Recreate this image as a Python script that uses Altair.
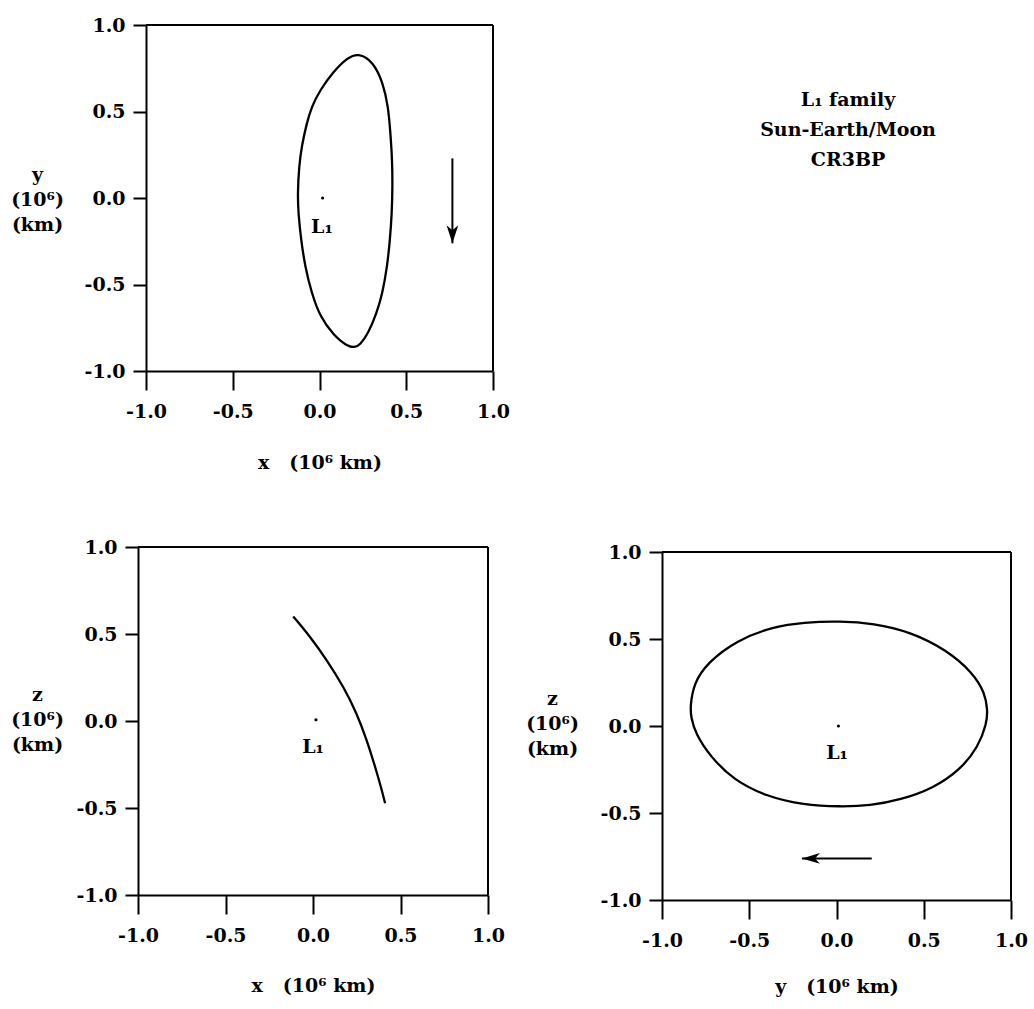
import altair as alt
import pandas as pd

# ---------------- data (10^6 km) ----------------
ticks = [-1.0, -0.5, 0.0, 0.5, 1.0]

# x-y projection (closed orbit)
xy_x = [0.223, 0.310, 0.367, 0.396, 0.409, 0.419, 0.421, 0.417, 0.406, 0.390,
        0.363, 0.329, 0.281, 0.233, 0.204, 0.156, 0.080, 0.003, -0.045, -0.083,
        -0.106, -0.122, -0.126, -0.118, -0.103, -0.074, -0.045, 0.003, 0.080, 0.156]
xy_y = [0.840, 0.788, 0.663, 0.528, 0.374, 0.220, 0.066, -0.089, -0.243, -0.397,
        -0.551, -0.667, -0.782, -0.850, -0.865, -0.855, -0.792, -0.686, -0.551, -0.397,
        -0.243, -0.089, 0.027, 0.181, 0.297, 0.432, 0.528, 0.624, 0.730, 0.807]

# x-z projection (arc)
xz_x = [-0.113, -0.017, 0.078, 0.174, 0.250, 0.307, 0.355, 0.393, 0.412]
xz_z = [0.601, 0.486, 0.352, 0.198, 0.045, -0.108, -0.262, -0.396, -0.473]

# y-z projection (closed orbit)
yz_y = [-0.838, -0.819, -0.742, -0.571, -0.361, -0.189, 0.021, 0.212, 0.422, 0.632,
        0.784, 0.851, 0.866, 0.861, 0.813, 0.708, 0.555, 0.365, 0.193, 0.021,
        -0.189, -0.399, -0.590, -0.723, -0.809, -0.834]
yz_z = [0.111, 0.243, 0.362, 0.494, 0.571, 0.596, 0.603, 0.590, 0.542, 0.437,
        0.303, 0.188, 0.092, 0.015, -0.119, -0.253, -0.358, -0.425, -0.458, -0.464,
        -0.454, -0.406, -0.310, -0.176, -0.042, 0.052]

# L1 point and label anchor per panel
l1_xy = (0.018, 0.0)
l1_xz = (0.017, 0.007)
l1_yz = (0.011, 0.0)
lab_xy = (0.014, -0.168)
lab_xz = (0.0, -0.149)
lab_yz = (0.003, -0.155)

# motion arrows (start -> tip)
arrow_xy = {"x": [0.766, 0.766], "y": [0.229, -0.262]}
arrow_yz = {"x": [0.202, -0.198], "y": [-0.761, -0.761]}

info_lines = ["L\u2081 family", "Sun-Earth/Moon", "CR3BP"]

# ---------------- styling ----------------
FONT = "DejaVu Serif"
FS = 19
FW = "bold"
W, H = 1034, 1009
NB = "\u00a0"
LABEL_EXPR = "datum.value < 0 ? '-' + format(-datum.value, '.1f') : format(datum.value, '.1f')"
DOWN = "M0,0L-0.65,-2L0,-1.45L0.65,-2Z"
LEFT = "M0,0L2,-0.6L1.45,0L2,0.6Z"


def panel(cx, cy, dot, lab, xr, yr, xtitle, ytitle, ytitle_x, ytitle_y, tpad,
          interp, arrow=None, arrow_shape=None):
    xs = alt.Scale(domain=[-1, 1], range=xr, nice=False, zero=False)
    ys = alt.Scale(domain=[-1, 1], range=yr, nice=False, zero=False)
    common = dict(values=ticks, labelExpr=LABEL_EXPR, tickWidth=2, tickColor="black",
                  domainWidth=2, domainColor="black", labelFont=FONT, labelFontSize=FS,
                  labelFontWeight=FW, labelColor="black", labelFlush=False,
                  labelOverlap=False, titleFont=FONT, titleFontSize=FS,
                  titleFontWeight=FW, titleColor="black", grid=False)
    xaxis = alt.Axis(orient="bottom", offset=yr[0] - H, tickSize=19, labelPadding=12,
                     title=xtitle, titlePadding=tpad, **common)
    yaxis = alt.Axis(orient="left", offset=-xr[0], tickSize=13, labelPadding=8,
                     title=ytitle, titleAngle=0, titleAlign="center",
                     titleBaseline="middle", titleX=ytitle_x, titleY=ytitle_y,
                     titleLineHeight=25, **common)
    X = alt.X("x:Q", scale=xs, axis=xaxis)
    Y = alt.Y("y:Q", scale=ys, axis=yaxis)

    df = pd.DataFrame({"x": cx, "y": cy, "i": list(range(len(cx)))})
    curve = alt.Chart(df).mark_line(color="black", strokeWidth=2.3,
                                    interpolate=interp).encode(x=X, y=Y, order="i:Q")
    top = alt.Chart(pd.DataFrame({"x": [-1.0], "x2": [1.0], "y": [1.0]})).mark_rule(
        color="black", strokeWidth=2).encode(x=X, x2="x2:Q", y=Y)
    right = alt.Chart(pd.DataFrame({"x": [1.0], "y": [-1.0], "y2": [1.0]})).mark_rule(
        color="black", strokeWidth=2).encode(x=X, y=Y, y2="y2:Q")
    pt = alt.Chart(pd.DataFrame({"x": [dot[0]], "y": [dot[1]]})).mark_point(
        filled=True, color="black", size=10, opacity=1).encode(x=X, y=Y)
    txt = alt.Chart(pd.DataFrame({"x": [lab[0]], "y": [lab[1]], "t": ["L\u2081"]})).mark_text(
        font=FONT, fontSize=FS, fontWeight=FW, color="black", align="center",
        baseline="middle").encode(x=X, y=Y, text="t:N")
    layers = [curve, top, right, pt, txt]
    if arrow is not None:
        shaft = alt.Chart(pd.DataFrame({"x": [arrow["x"][0]], "x2": [arrow["x"][1]],
                                        "y": [arrow["y"][0]], "y2": [arrow["y"][1]]})).mark_rule(
            color="black", strokeWidth=2).encode(x=X, x2="x2:Q", y=Y, y2="y2:Q")
        head = alt.Chart(pd.DataFrame({"x": [arrow["x"][1]], "y": [arrow["y"][1]]})).mark_point(
            shape=arrow_shape, filled=True, color="black", size=324, opacity=1,
            strokeWidth=0).encode(x=X, y=Y)
        layers += [shaft, head]
    return alt.layer(*layers)


p1 = panel(xy_x, xy_y, l1_xy, lab_xy, [146, 493], [371, 25],
           "x" + NB * 3 + "(10\u2076 km)", ["y", "(10\u2076)", "(km)"], -109, 174, 32,
           "basis-closed", arrow=arrow_xy, arrow_shape=DOWN)
p2 = panel(xz_x, xz_z, l1_xz, lab_xz, [138, 488], [895, 547],
           "x" + NB * 3 + "(10\u2076 km)", ["z", "(10\u2076)", "(km)"], -101, 694, 31,
           "basis")
p3 = panel(yz_y, yz_z, l1_yz, lab_yz, [662, 1011], [900, 552],
           "y" + NB * 3 + "(10\u2076 km)", ["z", "(10\u2076)", "(km)"], -110, 698, 27,
           "basis-closed", arrow=arrow_yz, arrow_shape=LEFT)

info = alt.Chart(pd.DataFrame({"k": [0]})).mark_text(
    text=info_lines, font=FONT, fontSize=FS, fontWeight=FW, color="black",
    align="center", baseline="middle", lineHeight=30).encode(
    x=alt.value(848), y=alt.value(100))

chart = alt.layer(p1, p2, p3, info).resolve_scale(
    x="independent", y="independent").properties(
    width=W, height=H, padding=0, autosize=alt.AutoSizeParams(type="none"),
    background="white").configure_view(stroke=None)

chart.save("out.html", embed_options={"renderer": "svg", "actions": False})
